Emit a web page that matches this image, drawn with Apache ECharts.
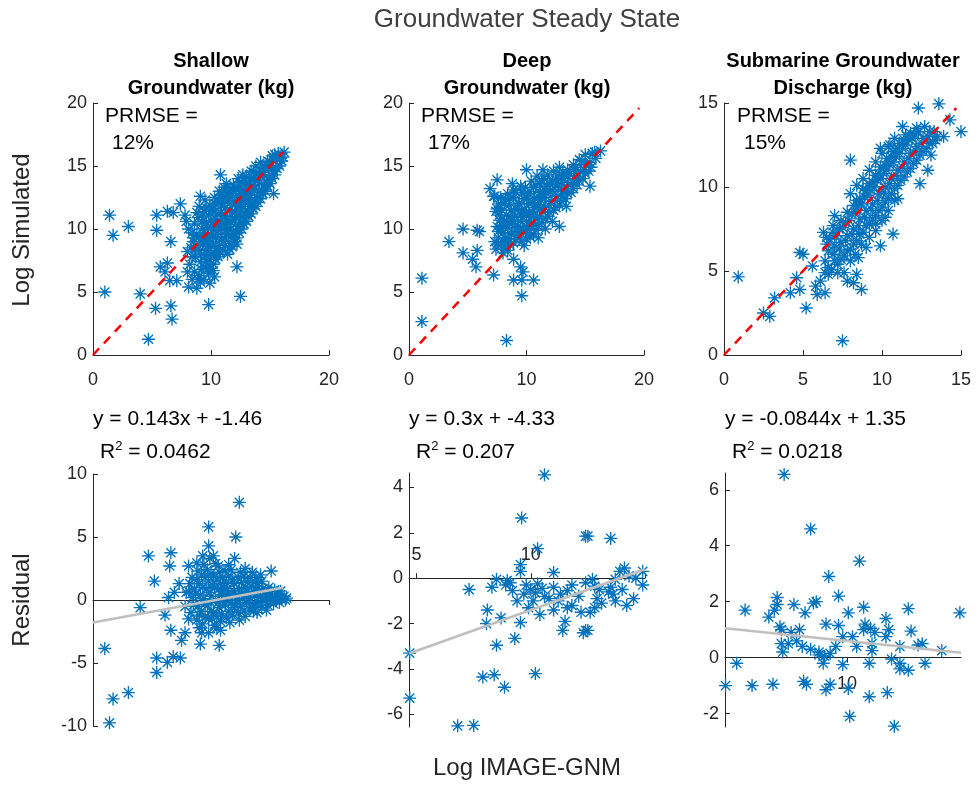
<!DOCTYPE html>
<html><head><meta charset="utf-8">
<script src="https://cdn.jsdelivr.net/npm/echarts@6/dist/echarts.min.js"></script>
<style>html,body{margin:0;padding:0;background:#fff}#chart{width:976px;height:787px}</style>
</head><body><div id="chart"></div>
<script>
// ---------------- DATA ----------------
const panelTitles = ['Shallow\nGroundwater (kg)', 'Deep\nGroundwater (kg)', 'Submarine Groundwater\nDischarge (kg)'];
const prmseLabels = ['12%', '17%', '15%'];
const fitEquations = ['y = 0.143x + -1.46', 'y = 0.3x + -4.33', 'y = -0.0844x + 1.35'];
const fitR2 = ['0.0462', '0.207', '0.0218'];

// top row: [Log IMAGE-GNM, Log Simulated]
const shallowPoints = [
 [1.4,11.1],[1.7,9.5],[3.0,10.2],[1.0,5.0],[4.0,4.85],[5.3,3.7],[4.7,1.25],[6.6,3.9],[6.7,2.85],[5.4,9.9],
 [5.4,11.1],[6.6,9.0],[6.3,11.4],[7.4,12.0],[6.8,11.3],[10.8,14.3],[9.1,12.6],[12.5,4.65],[9.8,4.0],[12.2,7.0],
 [12.2,8.8],[15.3,12.8],[5.7,7.0],[6.3,7.3],[6.1,6.6],[7.1,5.9],[6.5,5.9],[8.1,5.4],[8.8,5.3],[9.1,5.8],
 [9.9,5.7],[10.2,6.7],[9.7,6.8],[7.9,10.6],[7.8,11.1],[8.5,9.3],
 [8.2,7.2],[8.3,8.5],[8.1,10.0],[8.6,6.6],[8.7,7.8],[8.5,9.0],[8.6,10.4],[8.8,11.3],
 [9.0,6.3],[9.1,7.4],[8.9,8.4],[9.0,9.4],[9.2,10.6],[9.0,11.8],
 [9.4,7.0],[9.5,7.9],[9.3,8.8],[9.4,9.7],[9.6,10.5],[9.4,11.4],[9.5,12.3],
 [9.8,6.5],[9.9,7.6],[9.7,8.6],[9.8,9.5],[10.0,10.2],[9.8,11.1],[9.9,11.9],
 [10.2,7.2],[10.3,8.1],[10.1,9.0],[10.2,9.9],[10.4,10.8],[10.2,11.6],[10.3,12.5],
 [10.6,7.8],[10.7,8.7],[10.5,9.6],[10.6,10.4],[10.8,11.3],[10.6,12.1],[10.7,13.0],
 [11.0,8.3],[11.1,9.3],[10.9,10.1],[11.0,11.0],[11.2,11.7],[11.0,12.4],[11.1,13.3],
 [11.4,8.0],[11.5,9.0],[11.3,9.9],[11.4,10.7],[11.6,11.5],[11.4,12.2],[11.5,12.9],[11.3,13.6],
 [11.8,8.6],[11.9,9.6],[11.7,10.5],[11.8,11.3],[12.0,12.0],[11.8,12.8],[11.9,13.5],
 [12.2,9.3],[12.3,10.2],[12.1,11.0],[12.2,11.8],[12.4,12.5],[12.2,13.2],[12.3,14.0],
 [12.6,10.0],[12.7,10.9],[12.5,11.6],[12.6,12.3],[12.8,13.0],[12.6,13.7],[12.7,14.3],
 [13.0,10.6],[13.1,11.4],[12.9,12.1],[13.0,12.8],[13.2,13.5],[13.0,14.2],
 [13.4,11.2],[13.5,12.0],[13.3,12.7],[13.4,13.3],[13.6,14.0],[13.4,14.6],
 [13.8,11.8],[13.9,12.5],[13.7,13.2],[13.8,13.8],[14.0,14.4],[13.8,15.0],
 [14.2,12.4],[14.3,13.1],[14.1,13.7],[14.2,14.3],[14.4,14.9],[14.2,15.3],
 [14.6,13.0],[14.7,13.7],[14.5,14.3],[14.6,14.8],[14.8,15.4],
 [15.0,13.6],[15.1,14.2],[14.9,14.8],[15.0,15.3],[15.2,15.8],
 [15.4,14.3],[15.5,14.9],[15.3,15.4],[15.4,15.9],[15.8,15.0],[15.9,15.6],[15.7,16.0],[16.1,15.7],[16.2,16.1],
 [10.0,8.0],[10.4,9.3],[11.2,10.4],[11.6,10.0],[12.0,10.7],[12.4,11.3],[12.8,11.8],[13.2,12.4],[10.8,9.9],[9.6,9.1],
 [8.4,7.8],[8.4,9.7],[8.7,8.4],[8.8,9.6],[8.9,10.9],[9.2,6.8],[9.2,8.0],[9.1,9.0],[9.3,10.0],[9.3,11.2],
 [9.6,7.4],[9.6,8.3],[9.5,9.3],[9.7,10.1],[9.6,11.7],[10.0,6.9],[10.0,8.6],[10.1,9.4],[10.0,10.7],[10.1,11.5],
 [10.4,7.6],[10.5,8.5],[10.4,10.2],[10.5,11.2],[10.4,12.0],[10.8,8.2],[10.9,9.2],[10.8,10.6],[10.9,11.9],[10.9,12.7],
 [11.2,8.7],[11.3,9.6],[11.2,11.1],[11.3,12.5],[11.2,13.0],[11.6,8.4],[11.7,9.4],[11.6,10.6],[11.7,12.1],[11.6,13.2],
 [12.0,9.0],[12.1,9.9],[12.0,11.3],[12.1,12.5],[12.0,13.3],[12.4,9.7],[12.5,10.5],[12.4,12.0],[12.5,13.0],[12.4,13.7],
 [12.8,10.4],[12.9,11.2],[12.8,12.5],[12.9,13.5],[12.8,14.0],[13.2,11.0],[13.3,11.8],[13.2,13.0],[13.3,14.0],[13.6,11.6],
 [13.7,12.3],[13.6,13.5],[13.6,14.5],[14.0,12.1],[14.1,12.9],[14.0,13.9],[14.4,12.8],[14.5,13.5],[14.4,14.5],[14.8,13.4],
 [14.9,14.1],[14.8,15.0],[15.2,14.0],[15.3,14.6],[15.6,14.8],[15.6,15.5],[16.0,15.4],[10.3,6.2],[9.4,6.0],[8.9,6.0],
 [8.4,6.0],[8.0,6.6],[8.0,8.2]
];
const deepPoints = [
 [1.1,6.1],[1.1,2.65],[8.3,1.15],[3.4,9.0],[4.6,10.0],[4.6,8.1],[5.8,9.9],[6.0,9.8],[5.8,8.3],[5.7,7.0],
 [5.4,7.6],[7.2,6.35],[8.9,5.95],[9.6,5.95],[10.6,5.95],[9.6,4.7],[9.7,6.6],[9.5,7.0],[6.9,13.2],[7.5,13.9],
 [8.8,13.6],[7.2,12.6],[10.0,14.7],[11.4,14.7],[15.4,13.4],[16.3,16.2],[12.8,10.2],[12.2,10.6],[11.0,9.3],[11.6,10.0],
 [13.4,11.8],[8.0,8.1],[8.9,7.6],
 [7.4,8.4],[7.6,9.3],[7.5,10.2],[7.7,11.1],[7.6,12.0],
 [7.9,8.8],[8.0,9.7],[8.1,10.6],[7.9,11.5],[8.2,12.4],
 [8.4,8.3],[8.5,9.2],[8.4,10.1],[8.6,11.0],[8.5,11.9],[8.4,12.8],
 [8.9,8.9],[9.0,9.8],[8.8,10.7],[9.1,11.6],[8.9,12.5],
 [9.4,9.3],[9.3,10.2],[9.5,11.1],[9.4,12.0],[9.6,12.9],
 [9.8,8.7],[9.9,9.7],[10.0,10.6],[9.8,11.5],[10.0,12.4],[9.9,13.3],
 [10.3,9.4],[10.4,10.3],[10.2,11.2],[10.5,12.1],[10.3,13.0],[10.4,13.8],
 [10.8,9.9],[10.9,10.8],[10.7,11.7],[11.0,12.6],[10.8,13.5],[10.9,14.2],
 [11.3,10.5],[11.4,11.4],[11.2,12.3],[11.5,13.1],[11.3,13.9],
 [11.8,11.0],[11.9,11.9],[11.7,12.8],[12.0,13.6],[11.8,14.3],
 [12.3,11.5],[12.4,12.3],[12.2,13.1],[12.5,13.9],[12.3,14.6],
 [12.8,11.9],[12.9,12.7],[12.7,13.5],[13.0,14.2],[12.8,14.9],
 [13.3,12.4],[13.4,13.2],[13.2,14.0],[13.5,14.7],
 [13.8,12.9],[13.9,13.7],[13.7,14.4],[14.0,15.1],
 [14.3,13.5],[14.4,14.2],[14.2,14.9],[14.5,15.5],
 [14.8,14.0],[14.9,14.7],[14.7,15.4],[15.0,15.9],
 [15.3,14.6],[15.4,15.3],[15.6,16.0],[15.9,15.6],
 [8.2,9.0],[9.2,9.6],[10.1,10.0],[10.6,11.0],[11.1,11.6],[7.8,10.0],[8.7,10.4],[9.7,10.9],
 [7.5,8.8],[7.6,9.8],[7.7,10.7],[7.5,11.6],[7.8,12.5],[8.1,8.4],[8.2,9.3],[8.0,10.2],[8.3,11.1],[8.1,12.0],
 [8.6,8.7],[8.7,9.6],[8.5,10.5],[8.7,11.5],[8.6,12.4],[9.1,9.2],[9.2,10.1],[9.0,11.0],[9.3,12.0],[9.1,12.9],
 [9.6,9.0],[9.7,10.0],[9.5,10.6],[9.6,11.5],[9.8,12.4],[10.0,9.2],[10.2,10.3],[10.0,11.2],[10.2,12.0],[10.1,12.8],
 [10.6,9.6],[10.6,10.5],[10.5,11.4],[10.7,12.4],[10.6,13.3],[11.0,10.2],[11.1,11.0],[11.0,11.9],[11.2,12.9],[11.1,13.6],
 [11.6,10.8],[11.6,11.7],[11.5,12.5],[11.7,13.4],[11.5,14.0],[12.0,11.3],[12.1,12.2],[12.0,13.0],[12.2,13.8],[12.5,11.7],
 [12.6,12.6],[12.5,13.4],[12.6,14.2],[13.0,12.2],[13.1,13.0],[13.0,13.7],[13.1,14.5],[13.5,12.8],[13.6,13.5],[13.5,14.2],
 [14.0,13.2],[14.1,14.0],[14.0,14.7],[14.5,13.8],[14.6,14.6],[15.0,14.4],[15.1,15.1],[15.5,14.9],[15.8,16.1],[7.3,9.0],
 [7.4,11.4],[7.3,12.6],[8.9,13.1],[9.5,13.4]
];
const sgdPoints = [
 [0.9,4.65],[7.5,0.85],[8.0,11.6],[2.5,2.5],[2.9,2.3],[3.2,3.4],[5.2,2.8],[4.8,6.1],[5.0,6.0],[4.6,4.6],
 [4.8,3.9],[4.2,3.7],[5.6,5.3],[5.8,4.1],[6.1,4.4],[6.4,3.7],[5.9,3.6],[7.8,4.4],[8.4,4.8],[8.7,3.9],
 [8.2,4.3],[9.9,6.5],[10.7,7.2],[13.6,14.95],[12.3,14.7],[11.3,13.6],[14.3,14.0],[15.0,13.3],[13.9,13.0],[12.9,11.0],
 [12.4,10.2],[9.9,12.3],[10.5,12.5],
 [6.4,5.6],[6.5,6.6],[6.3,7.3],[6.8,5.1],[6.9,6.0],[6.7,6.9],[6.9,7.7],
 [7.2,5.4],[7.3,6.3],[7.1,7.1],[7.4,8.0],[7.6,5.9],[7.7,6.8],[7.5,7.6],[7.8,8.5],
 [8.0,6.3],[8.1,7.2],[7.9,8.0],[8.2,8.9],[8.0,9.6],
 [8.4,6.8],[8.5,7.7],[8.3,8.5],[8.6,9.3],[8.4,10.1],
 [8.8,7.3],[8.9,8.2],[8.7,9.0],[9.0,9.8],[8.8,10.5],
 [9.2,7.8],[9.3,8.7],[9.1,9.5],[9.4,10.3],[9.2,11.0],
 [9.6,8.3],[9.7,9.2],[9.5,10.0],[9.8,10.8],[9.6,11.5],
 [10.0,8.8],[10.1,9.7],[9.9,10.5],[10.2,11.3],[10.0,12.0],
 [10.4,9.3],[10.5,10.2],[10.3,11.0],[10.6,11.8],[10.4,12.4],
 [10.8,9.9],[10.9,10.7],[10.7,11.5],[11.0,12.3],[10.8,12.9],
 [11.2,10.4],[11.3,11.2],[11.1,12.0],[11.4,12.8],
 [11.6,10.9],[11.7,11.7],[11.5,12.5],[11.8,13.2],
 [12.0,11.4],[12.1,12.2],[11.9,12.9],[12.2,13.5],
 [12.4,11.9],[12.5,12.6],[12.3,13.3],[12.8,12.3],[12.9,13.0],[12.7,13.6],
 [13.2,12.6],[13.3,13.3],[13.5,13.0],[13.1,11.9],
 [7.0,8.3],[7.6,4.9],[8.5,5.8],[9.0,6.4],[9.6,7.4],[6.6,4.8],[10.2,8.2],[11.0,9.3],
 [6.6,5.2],[6.6,6.2],[6.5,7.0],[7.0,5.6],[7.0,6.5],[6.9,7.3],[7.4,5.7],[7.4,6.7],[7.3,7.5],[7.8,6.2],
 [7.8,7.1],[7.7,7.9],[8.2,6.6],[8.2,7.5],[8.1,8.4],[8.4,9.2],[8.6,7.2],[8.6,8.1],[8.5,8.9],[8.8,9.9],
 [9.0,7.7],[9.0,8.6],[8.9,9.4],[9.2,10.2],[9.4,8.1],[9.4,9.0],[9.3,9.8],[9.6,10.7],[9.8,8.6],[9.8,9.6],
 [9.7,10.4],[9.9,11.2],[10.2,9.1],[10.2,10.0],[10.1,10.8],[10.3,11.7],[10.6,9.6],[10.6,10.5],[10.5,11.3],[10.7,12.1],
 [11.0,10.1],[11.0,11.0],[10.9,11.8],[11.1,12.6],[11.4,10.6],[11.4,11.5],[11.3,12.3],[11.5,13.1],[11.8,11.1],[11.8,12.0],
 [11.7,12.8],[12.2,11.6],[12.2,12.4],[12.1,13.1],[12.6,12.1],[12.6,12.9],[13.0,12.6],[13.0,13.3],[13.4,12.8],[8.0,5.6],
 [8.3,6.0],[8.7,6.6],[9.2,7.0],[9.6,7.8],[10.0,8.0],[10.4,8.6],[10.8,9.2],[6.4,4.9],[7.2,4.9]
];

// bottom row: [Log IMAGE-GNM, Residual]
const shallowResidual = [
 [12.4,7.75],[9.8,5.8],[12.1,5.0],[4.7,3.5],[6.6,3.75],[6.5,2.7],[5.2,1.5],[4.0,-0.6],[1.0,-3.85],[1.7,-7.85],
 [3.0,-7.35],[1.4,-9.75],[5.4,-4.6],[5.4,-5.75],[6.8,-4.5],[7.4,-4.6],[6.3,-4.95],[6.6,-2.4],[7.5,-3.2],[7.8,-2.6],
 [9.1,-3.5],[10.7,-3.6],[6.1,-1.2],[6.4,0.2],[6.9,0.6],[7.3,1.3],[15.1,2.3],[8.8,2.95],[9.8,4.3],[9.3,3.5],
 [10.2,3.5],[12.0,3.3],[12.9,2.5],[8.1,2.7],[8.1,-1.5],[9.0,-2.2],[9.8,-2.6],[10.5,-2.2],[12.9,-1.3],[13.6,-0.9],
 [8.3,-1.0],[8.4,0.2],[8.2,1.3],
 [8.8,-1.6],[8.9,-0.5],[8.7,0.5],[8.8,1.6],[8.9,2.3],
 [9.3,-1.9],[9.2,-0.9],[9.4,0.1],[9.3,1.0],[9.2,2.0],[9.4,2.8],
 [9.8,-1.5],[9.7,-0.4],[9.9,0.6],[9.8,1.5],[9.7,2.4],[9.9,3.3],
 [10.3,-2.0],[10.2,-1.0],[10.4,0.0],[10.3,1.0],[10.2,1.9],[10.4,2.9],
 [10.8,-1.7],[10.7,-0.6],[10.9,0.4],[10.8,1.3],[10.7,2.2],
 [11.3,-1.4],[11.2,-0.4],[11.4,0.5],[11.3,1.4],[11.2,2.3],
 [11.8,-1.2],[11.7,-0.2],[11.9,0.7],[11.8,1.6],[11.7,2.4],
 [12.3,-1.0],[12.2,0.0],[12.4,0.9],[12.3,1.8],
 [12.8,-0.8],[12.7,0.1],[12.9,1.0],[12.8,1.9],
 [13.3,-0.7],[13.2,0.2],[13.4,1.1],[13.3,1.8],
 [13.8,-0.5],[13.7,0.3],[13.9,1.1],[13.8,1.8],
 [14.3,-0.6],[14.2,0.2],[14.4,0.9],[14.3,1.5],
 [14.8,-0.4],[14.7,0.3],[14.9,1.0],[15.3,-0.3],[15.2,0.2],[15.4,0.8],
 [15.8,-0.2],[15.7,0.3],[15.9,0.7],[16.3,0.0],[16.2,0.3],
 [9.5,-0.3],[10.0,0.3],[10.6,0.8],[11.0,-0.1],[11.6,0.3],[12.0,-0.6],[12.6,0.5],[13.0,-0.2],[10.1,-1.5],[11.1,1.0],
 [8.5,-0.4],[8.6,0.8],[9.0,-1.2],[9.1,0.4],[9.0,1.3],[9.5,-1.3],[9.6,0.9],[9.5,1.8],[10.0,-0.9],[10.1,1.2],
 [10.0,2.1],[10.5,-1.3],[10.6,-0.2],[10.5,1.6],[10.9,-1.1],[11.0,0.7],[11.0,1.8],[11.5,-0.9],[11.4,0.9],[11.5,1.9],
 [12.0,-0.3],[12.1,0.4],[12.0,1.3],[12.5,-0.5],[12.6,1.4],[13.0,0.6],[13.1,1.4],[13.5,-0.3],[13.6,0.7],[14.0,-0.2],
 [14.1,0.6],[14.0,1.3],[14.6,-0.1],[14.5,0.6],[15.0,0.0],[15.1,0.5],[15.5,0.0],[15.6,0.5],[16.0,0.1],[16.4,0.15],
 [9.2,-2.6],[10.8,-2.4],[11.6,-1.8],[12.4,-1.6],[13.9,-1.0],[14.7,-0.8],[12.5,2.2],[13.5,2.2],[14.2,2.0],[10.6,2.7],
 [11.5,2.8],[8.4,1.8],[8.1,0.7],[7.8,-0.5],[7.9,0.6]
];
const deepResidual = [
 [10.6,4.55],[9.6,2.65],[12.4,1.85],[12.5,1.85],[13.5,1.75],[10.3,1.3],[9.55,0.6],[9.55,0.3],[11.0,0.25],[14.1,0.45],
 [13.9,0.3],[14.9,0.3],[14.9,-0.3],[7.3,-0.5],[8.5,-0.05],[8.9,-0.3],[8.97,-0.1],[8.1,-1.4],[8.7,-1.75],[8.06,-2.0],
 [9.55,-1.95],[4.7,-3.3],[4.7,-5.28],[6.8,-6.5],[7.5,-6.48],[7.9,-4.35],[8.4,-4.25],[8.85,-4.8],[8.5,-2.95],[9.3,-2.65],
 [10.2,-4.2],[11.4,-2.3],[12.4,-2.3],[12.3,-2.4],[12.5,-2.3],[11.6,-1.3],[11.8,-1.2],[11.0,-1.4],[10.4,-1.6],[12.8,-1.3],
 [12.9,-0.9],[13.7,-1.0],[14.2,-1.2],[14.5,-0.9],[13.5,-0.4],[13.4,-0.6],[12.7,-0.05],[12.8,-0.35],[13.7,-0.05],[10.0,-0.5],
 [10.2,-0.65],[10.3,-0.25],[10.6,-0.8],[9.7,-0.7],[9.4,-1.0],[9.2,-0.55],[11.0,-0.4],[11.3,-0.7],[11.6,-0.55],[9.1,-0.2],
 [9.8,-0.3],[10.1,-1.0],[10.5,-0.45],[10.8,-0.9],[11.2,-1.0],[11.8,-0.3],[12.1,-0.8],[12.6,-1.5],[13.1,-1.1],[13.6,-0.7],
 [14.0,-0.5],[14.3,0.1],[14.6,0.0],[12.4,-0.2],[13.0,-0.5],[9.9,-1.3],[11.5,-1.9],[12.2,-1.5],[8.3,-0.4]
];
const sgdResidual = [
 [7.75,6.55],[8.7,4.6],[10.45,3.45],[9.35,2.9],[9.7,2.2],[7.5,2.15],[8.1,1.9],[8.9,2.0],[8.8,1.95],[6.35,1.7],
 [7.2,1.45],[7.4,1.7],[7.5,1.9],[8.5,1.6],[7.6,1.1],[7.65,1.0],[8.3,1.0],[9.25,1.2],[9.7,1.15],[10.05,1.6],
 [10.6,1.8],[10.65,1.2],[10.85,1.05],[11.4,1.4],[11.5,1.0],[12.2,1.75],[12.3,0.95],[14.05,1.6],
 [7.65,0.5],[7.9,0.5],[7.7,0.2],[8.4,0.4],[8.7,0.3],[9.0,0.2],[9.4,0.15],[9.6,0.4],[9.85,0.75],[10.2,0.75],
 [10.35,0.4],[10.9,0.5],[10.9,0.25],[11.4,0.75],[11.9,0.4],[12.55,0.45],[12.7,0.5],[13.4,0.25],
 [6.05,-0.2],[9.15,-0.2],[9.85,-0.25],[10.8,-0.2],[11.6,-0.05],[11.9,-0.4],[12.2,-0.45],[12.8,-0.2],[11.9,-0.2],
 [5.65,-1.0],[6.6,-1.0],[7.35,-0.95],[8.45,-0.85],[8.55,-0.95],[9.25,-1.15],[9.4,-0.95],[10.05,-1.1],[10.8,-1.4],[11.45,-1.25],
 [10.1,-2.1],[11.7,-2.45],[8.0,0.9],[9.0,0.1],[10.6,1.0],[11.0,0.9],[8.2,0.6],[9.2,0.05]
];

// axis ranges
const topXMax = [20, 20, 15];
const topYMax = [20, 20, 15];
const topXInterval = [10, 10, 5];
const topYInterval = [5, 5, 5];
const identityEnd = [16.1, 19.6, 14.7];
const resXRange = [[0, 20], [4.67, 15.0], [5.63, 14.09]];
const resYRange = [[-10, 10], [-6.55, 4.63], [-2.48, 6.6]];
const resYTicks = [[-10, -5, 0, 5, 10], [-6, -4, -2, 0, 2, 4], [-2, 0, 2, 4, 6]];
const resXTicks = [[10, 20], [5, 10, 15], [10]];
const resXLabels = [[], [5, 10], [10]];
const trendFrom = [0, 4.67, 5.63];
const trendTo = [16.1, 15.0, 14.09];
const trendSlope = [0.172, 0.359, -0.104];
const trendIntercept = [-1.79, -4.99, 1.636];

// ---------------- CHART ----------------
const topPts = [shallowPoints, deepPoints, sgdPoints];
const resPts = [shallowResidual, deepResidual, sgdResidual];
const BLUE = '#0072BD', AX = '#262626', FONT = '"Liberation Sans", Arial, Helvetica, sans-serif';
const STAR = 'path://M5 0L5 10M0 5L10 5M1.46 1.46L8.54 8.54M1.46 8.54L8.54 1.46';

const grids = [
  {left: 93, top: 103, width: 236, height: 252},
  {left: 409, top: 103, width: 235, height: 252},
  {left: 724, top: 103, width: 237, height: 252},
  {left: 93, top: 474, width: 236, height: 252},
  {left: 409, top: 473, width: 236, height: 254},
  {left: 725, top: 473, width: 236, height: 254}
];
const axLine = {show: true, lineStyle: {color: AX, width: 1}};
const lbl = {color: AX, fontSize: 18, fontFamily: FONT};
const starStyle = {color: 'rgba(0,0,0,0)', borderColor: BLUE, borderWidth: 1.35, opacity: 1};
const xAxes = [], yAxes = [], series = [];
for (let i = 0; i < 3; i++) {
  xAxes.push({gridIndex: i, type: 'value', min: 0, max: topXMax[i], interval: topXInterval[i],
    axisLine: Object.assign({onZero: false}, axLine), axisTick: {inside: true, length: 5, lineStyle: {color: AX}},
    axisLabel: Object.assign({margin: 16}, lbl), splitLine: {show: false}});
  yAxes.push({gridIndex: i, type: 'value', min: 0, max: topYMax[i], interval: topYInterval[i],
    axisLine: Object.assign({onZero: false}, axLine), axisTick: {inside: true, length: 5, lineStyle: {color: AX}},
    axisLabel: Object.assign({margin: 6}, lbl), splitLine: {show: false}});
  series.push({type: 'scatter', xAxisIndex: i, yAxisIndex: i, data: topPts[i], symbol: STAR, symbolSize: 13,
    itemStyle: starStyle, z: 2, silent: true, clip: false});
  series.push({type: 'line', xAxisIndex: i, yAxisIndex: i, data: [[0, 0], [identityEnd[i], identityEnd[i]]],
    symbol: 'none', lineStyle: {color: '#FF0000', width: 2.5, type: [9, 7]}, z: 5, silent: true});
}
for (let i = 0; i < 3; i++) {
  const g = i + 3;
  const yr = resYRange[i];
  // place the x axis on the y = 0 line of its grid
  const zeroOffset = -grids[g].height * (0 - yr[0]) / (yr[1] - yr[0]);
  xAxes.push({gridIndex: g, type: 'value', min: resXRange[i][0], max: resXRange[i][1], offset: zeroOffset,
    axisLine: Object.assign({onZero: false}, axLine),
    axisTick: {inside: i === 1, length: 5, lineStyle: {color: AX}, customValues: resXTicks[i]},
    axisLabel: Object.assign({inside: i === 1, margin: i === 1 ? 14 : 17, customValues: resXLabels[i], show: resXLabels[i].length > 0}, lbl),
    splitLine: {show: false}});
  yAxes.push({gridIndex: g, type: 'value', min: yr[0], max: yr[1],
    axisLine: Object.assign({onZero: false}, axLine),
    axisTick: {inside: true, length: 5, lineStyle: {color: AX}, customValues: resYTicks[i]},
    axisLabel: Object.assign({margin: 6, customValues: resYTicks[i]}, lbl), splitLine: {show: false}});
  series.push({type: 'scatter', xAxisIndex: g, yAxisIndex: g, data: resPts[i], symbol: STAR, symbolSize: 13,
    itemStyle: starStyle, z: 2, silent: true, clip: false});
  series.push({type: 'line', xAxisIndex: g, yAxisIndex: g,
    data: [[trendFrom[i], trendSlope[i] * trendFrom[i] + trendIntercept[i]], [trendTo[i], trendSlope[i] * trendTo[i] + trendIntercept[i]]],
    symbol: 'none', lineStyle: {color: '#BFBFBF', width: 2.5}, z: 5, silent: true});
}

const centers = [211, 527, 843];
const lefts = [93, 409, 725];
const graphic = [
  {type: 'text', x: 527, y: 20, style: {text: 'Groundwater Steady State', font: '26px ' + FONT, fill: '#404040', textAlign: 'center', textVerticalAlign: 'middle'}},
  {type: 'text', x: 22, y: 230, rotation: Math.PI / 2, style: {text: 'Log Simulated', font: '24px ' + FONT, fill: AX, textAlign: 'center', textVerticalAlign: 'middle'}},
  {type: 'text', x: 22, y: 600, rotation: Math.PI / 2, style: {text: 'Residual', font: '24px ' + FONT, fill: AX, textAlign: 'center', textVerticalAlign: 'middle'}},
  {type: 'text', x: 527, y: 768, style: {text: 'Log IMAGE-GNM', font: '24px ' + FONT, fill: AX, textAlign: 'center', textVerticalAlign: 'middle'}}
];
for (let i = 0; i < 3; i++) {
  const lines = panelTitles[i].split('\n');
  graphic.push({type: 'text', x: centers[i], y: 61, style: {text: lines[0], font: 'bold 20px ' + FONT, fill: '#000', textAlign: 'center', textVerticalAlign: 'middle'}});
  graphic.push({type: 'text', x: centers[i], y: 88, style: {text: lines[1], font: 'bold 20px ' + FONT, fill: '#000', textAlign: 'center', textVerticalAlign: 'middle'}});
  graphic.push({type: 'text', x: lefts[i] + 12, y: 116, style: {text: 'PRMSE =', font: '21px ' + FONT, fill: '#000', textAlign: 'left', textVerticalAlign: 'middle'}});
  graphic.push({type: 'text', x: lefts[i] + 19, y: 143, style: {text: prmseLabels[i], font: '21px ' + FONT, fill: '#000', textAlign: 'left', textVerticalAlign: 'middle'}});
  graphic.push({type: 'text', x: lefts[i], y: 419, style: {text: fitEquations[i], font: '21px ' + FONT, fill: '#000', textAlign: 'left', textVerticalAlign: 'middle'}});
  graphic.push({type: 'text', x: lefts[i] + 7, y: 452, style: {text: 'R{s|2} = ' + fitR2[i], font: '21px ' + FONT, fill: '#000', textAlign: 'left', textVerticalAlign: 'middle',
    rich: {s: {fontSize: 13, fontFamily: FONT, fill: '#000', verticalAlign: 'top', lineHeight: 24}}}});
}

const chart = echarts.init(document.getElementById('chart'), null, {renderer: 'canvas'});
chart.setOption({animation: false, backgroundColor: '#fff', grid: grids, xAxis: xAxes, yAxis: yAxes, series: series, graphic: graphic});
</script></body></html>
